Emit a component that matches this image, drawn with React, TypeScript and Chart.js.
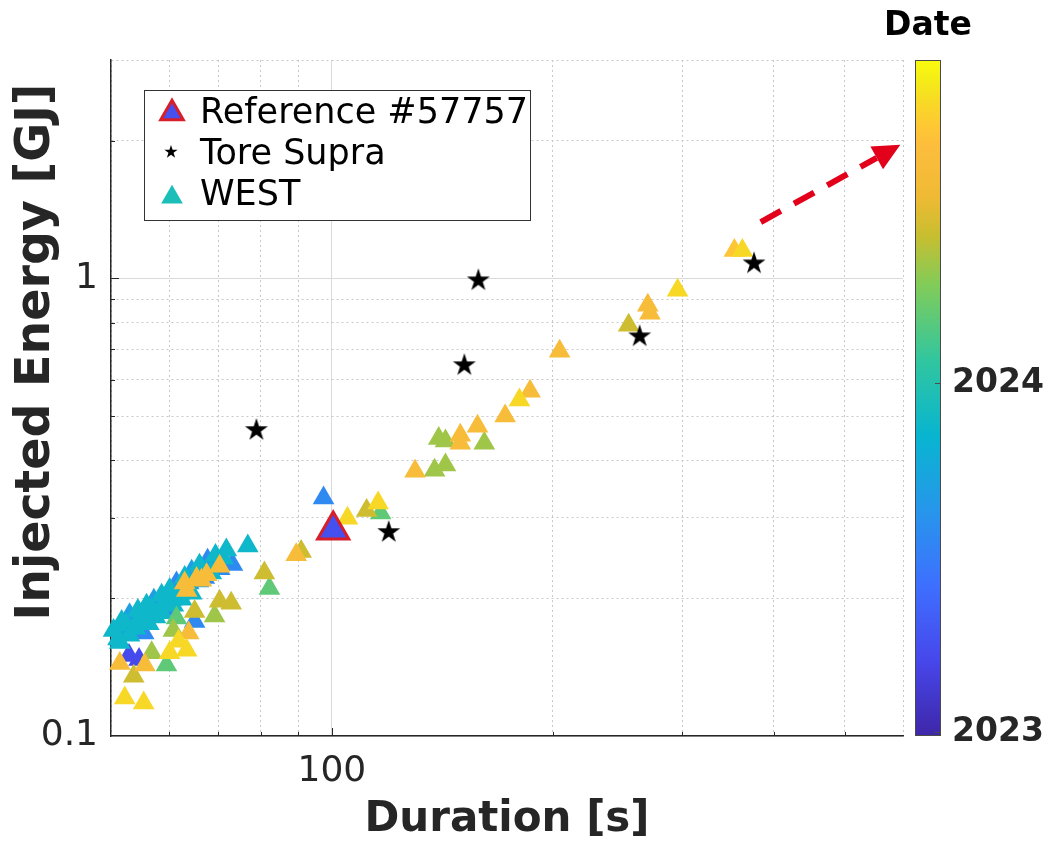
import React, { useEffect, useRef } from "react";
import { Chart, registerables } from "chart.js";

Chart.register(...registerables);

const W = 1053;
const H = 841;
const FONT = '"DejaVu Sans", "Liberation Sans", sans-serif';
const TEXT_COLOR = "#262626";

// ---- axes -----------------------------------------------------------
const X_MIN = 50;
const X_MAX = 600;
const Y_MIN = 0.1;
const Y_MAX = 3;
const X_TICKS = [50, 60, 70, 80, 90, 100, 200, 300, 400, 500, 600];
const X_LABELED = [100];
const Y_TICKS = [0.1, 0.2, 0.3, 0.4, 0.5, 0.6, 0.7, 0.8, 0.9, 1, 2, 3];
const Y_LABELED = [0.1, 1];
const DATE_MIN = 2022.9885;
const DATE_MAX = 2024.926;
const DATE_TICKS = [2023, 2024];

const X_TITLE = "Duration [s]";
const Y_TITLE = "Injected Energy [GJ]";
const C_TITLE = "Date";
const LEGEND_LABELS = ["Reference #57757", "Tore Supra", "WEST"];

// ---- data -----------------------------------------------------------
const REF_DURATION = [100.4];
const REF_ENERGY = [0.282];
const REF_DATE = [2023.25];

const TS_DURATION = [78.9, 119.5, 151.5, 158.3, 262.6, 376.0];
const TS_ENERGY = [0.466, 0.279, 0.646, 0.99, 0.747, 1.078];

const WEST_DURATION = [
  97.4, 105.0, 111.5, 116.5, 115.6, 129.8, 138.0, 142.8, 139.8, 142.8, 149.6, 149.6,
  157.9, 161.3, 172.2, 180.1, 186.2, 204.3, 253.7, 269.4, 271.2, 295.8, 353.5, 362.5,
  89.4, 90.8, 76.8, 80.9, 82.2,
  51.1, 51.7, 52.4, 53.0, 53.4, 54.0, 54.7, 55.4, 55.6, 56.3, 56.8, 57.5, 58.1, 58.6,
  59.2, 59.7, 60.5, 60.8, 61.6, 62.4, 63.0, 63.8, 64.4, 65.2, 65.8, 66.4, 67.0, 67.9,
  68.5, 69.4, 70.3, 71.1, 71.8, 73.2, 65.0, 62.0, 51.4,
  50.4, 51.7, 53.0, 54.4, 55.9, 57.2, 58.6, 60.1, 61.4, 63.0, 64.4, 66.0, 67.7, 69.4,
  63.0, 63.4, 65.4, 67.5, 70.3, 66.4, 65.0, 70.3, 72.9, 69.2, 61.4, 60.8, 63.8, 61.8,
  60.1, 63.4, 59.5, 51.4, 52.9, 54.6, 55.6, 56.8, 53.7, 52.2, 55.4,
];
const WEST_ENERGY = [
  0.331, 0.299, 0.311, 0.307, 0.323, 0.379, 0.381, 0.391, 0.447, 0.441, 0.454, 0.436,
  0.475, 0.436, 0.5, 0.542, 0.567, 0.693, 0.79, 0.873, 0.839, 0.942, 1.151, 1.151,
  0.249, 0.253, 0.26, 0.227, 0.21,
  0.163, 0.17, 0.175, 0.166, 0.178, 0.172, 0.181, 0.168, 0.184, 0.176, 0.189, 0.182, 0.193, 0.186,
  0.197, 0.189, 0.199, 0.193, 0.205, 0.199, 0.21, 0.216, 0.205, 0.225, 0.218, 0.232, 0.222, 0.235,
  0.227, 0.238, 0.232, 0.245, 0.255, 0.237, 0.178, 0.205, 0.16,
  0.17, 0.178, 0.184, 0.188, 0.193, 0.198, 0.203, 0.209, 0.216, 0.222, 0.229, 0.236, 0.242, 0.248,
  0.216, 0.208, 0.221, 0.225, 0.235, 0.219, 0.187, 0.197, 0.195, 0.183, 0.181, 0.17, 0.168, 0.161,
  0.152, 0.154, 0.143, 0.144, 0.15, 0.147, 0.143, 0.152, 0.135, 0.121, 0.118,
];
const WEST_DATE = [
  2023.57, 2024.8, 2024.44, 2024.19, 2024.8, 2024.62, 2024.34, 2024.34, 2024.34, 2024.34, 2024.62, 2024.62,
  2024.62, 2024.34, 2024.62, 2024.8, 2024.62, 2024.62, 2024.44, 2024.62, 2024.62, 2024.8, 2024.72, 2024.8,
  2024.62, 2024.44, 2023.88, 2024.44, 2024.19,
  2023.88, 2023.7, 2023.88, 2023.88, 2023.57, 2023.88, 2023.88, 2023.57, 2023.7, 2023.88, 2023.88, 2023.88, 2023.7, 2023.88,
  2023.88, 2023.57, 2023.88, 2023.88, 2023.7, 2023.88, 2023.88, 2023.7, 2023.88, 2023.57, 2023.7, 2023.88, 2023.57, 2023.7,
  2023.88, 2023.7, 2023.57, 2023.88, 2023.88, 2023.57, 2023.57, 2023.7, 2023.88,
  2023.88, 2023.88, 2023.7, 2023.88, 2023.88, 2023.7, 2023.88, 2023.88, 2023.57, 2023.88, 2023.7, 2023.88, 2023.57, 2023.88,
  2024.62, 2024.62, 2024.62, 2024.62, 2024.62, 2024.62, 2024.44, 2024.44, 2024.44, 2024.34, 2024.19, 2024.34, 2024.62, 2024.8,
  2024.8, 2024.8, 2024.19, 2024.62, 2023.22, 2023.22, 2024.62, 2024.34, 2024.44, 2024.8, 2024.8,
];

// annotation arrow (data coordinates: duration, energy)
const ARROW_FROM = [384, 1.327];
const ARROW_TO = [595, 1.958];

// parula colormap stops [t, r, g, b]
const PARULA: number[][] = [
  [0.0, 62, 38, 168],
  [0.111, 71, 71, 235],
  [0.222, 62, 111, 255],
  [0.333, 39, 150, 235],
  [0.444, 8, 181, 208],
  [0.556, 49, 198, 159],
  [0.667, 129, 204, 89],
  [0.74, 200, 190, 48],
  [0.8, 240, 186, 52],
  [0.873, 253, 189, 61],
  [0.905, 254, 201, 50],
  [0.937, 248, 217, 38],
  [0.968, 245, 235, 24],
  [1.0, 249, 251, 14],
];

function parula(t: number): string {
  const tt = Math.max(0, Math.min(1, t));
  for (let i = 1; i < PARULA.length; i++) {
    if (tt <= PARULA[i][0]) {
      const a = PARULA[i - 1];
      const b = PARULA[i];
      const f = (tt - a[0]) / (b[0] - a[0]);
      const r = Math.round(a[1] + (b[1] - a[1]) * f);
      const g = Math.round(a[2] + (b[2] - a[2]) * f);
      const bl = Math.round(a[3] + (b[3] - a[3]) * f);
      return `rgb(${r},${g},${bl})`;
    }
  }
  const l = PARULA[PARULA.length - 1];
  return `rgb(${l[1]},${l[2]},${l[3]})`;
}
const dateColor = (d: number) => parula((d - DATE_MIN) / (DATE_MAX - DATE_MIN));

function starPath(ctx: CanvasRenderingContext2D, cx: number, cy: number, R: number) {
  const r = R * 0.382;
  ctx.beginPath();
  for (let i = 0; i < 10; i++) {
    const rad = i % 2 === 0 ? R : r;
    const a = -Math.PI / 2 + (i * Math.PI) / 5;
    const px = cx + rad * Math.cos(a);
    const py = cy + rad * Math.sin(a);
    if (i === 0) ctx.moveTo(px, py);
    else ctx.lineTo(px, py);
  }
  ctx.closePath();
}

function makeStar(R: number): HTMLCanvasElement {
  const size = Math.ceil(R * 2 + 2);
  const c = document.createElement("canvas");
  c.width = size;
  c.height = size;
  const g = c.getContext("2d")!;
  g.fillStyle = "#000";
  starPath(g, size / 2, size / 2, R);
  g.fill();
  return c;
}

function triPath(ctx: CanvasRenderingContext2D, cx: number, cy: number, r: number) {
  ctx.beginPath();
  for (let i = 0; i < 3; i++) {
    const a = -Math.PI / 2 + (i * 2 * Math.PI) / 3;
    const px = cx + r * Math.cos(a);
    const py = cy + r * Math.sin(a);
    if (i === 0) ctx.moveTo(px, py);
    else ctx.lineTo(px, py);
  }
  ctx.closePath();
}

const isIn = (arr: number[], v: number) => arr.some((a) => Math.abs(a - v) < 1e-9);

const zeroPad = (s: any) => {
  s.paddingTop = 0;
  s.paddingBottom = 0;
  s.paddingLeft = 0;
  s.paddingRight = 0;
};

export default function App() {
  const ref = useRef<HTMLCanvasElement | null>(null);

  useEffect(() => {
    const canvas = ref.current;
    if (!canvas) return;

    const order = WEST_DATE.map((_, i) => i).sort((a, b) => WEST_DATE[a] - WEST_DATE[b]);
    const westPoints = order.map((i) => ({ x: WEST_DURATION[i], y: WEST_ENERGY[i] }));
    const westColors = order.map((i) => dateColor(WEST_DATE[i]));
    const starImg = makeStar(12);

    const gridColor = (ctx: any) => {
      const v = ctx.tick ? ctx.tick.value : NaN;
      return ctx.scale && ctx.scale.id === "x"
        ? isIn(X_LABELED, v) ? "#dadada" : "#c8c8c8"
        : isIn(Y_LABELED, v) ? "#dadada" : "#c8c8c8";
    };
    const gridDash = (ctx: any) => {
      if (!ctx.tick) return [];
      const v = ctx.tick.value;
      const major = ctx.scale && ctx.scale.id === "x" ? isIn(X_LABELED, v) : isIn(Y_LABELED, v);
      return major ? [] : [2, 3];
    };

    const decorPlugin = {
      id: "decor",
      afterDatasetsDraw(chart: any) {
        const { ctx } = chart;
        const xs = chart.scales.x;
        const ys = chart.scales.y;
        // arrow
        const x0 = xs.getPixelForValue(ARROW_FROM[0]);
        const y0 = ys.getPixelForValue(ARROW_FROM[1]);
        const x1 = xs.getPixelForValue(ARROW_TO[0]);
        const y1 = ys.getPixelForValue(ARROW_TO[1]);
        const ang = Math.atan2(y1 - y0, x1 - x0);
        const headLen = 27;
        const headW = 13;
        const bx = x1 - headLen * Math.cos(ang);
        const by = y1 - headLen * Math.sin(ang);
        ctx.save();
        ctx.strokeStyle = "#e3001b";
        ctx.fillStyle = "#e3001b";
        ctx.lineWidth = 6;
        ctx.setLineDash([23, 15]);
        ctx.beginPath();
        ctx.moveTo(x0, y0);
        ctx.lineTo(bx, by);
        ctx.stroke();
        ctx.setLineDash([]);
        ctx.beginPath();
        ctx.moveTo(x1, y1);
        ctx.lineTo(bx + headW * Math.sin(ang), by - headW * Math.cos(ang));
        ctx.lineTo(bx - headW * Math.sin(ang), by + headW * Math.cos(ang));
        ctx.closePath();
        ctx.fill();
        ctx.restore();
      },
      afterDraw(chart: any) {
        const { ctx, chartArea } = chart;
        const xs = chart.scales.x;
        const ys = chart.scales.y;
        const cs = chart.scales.c;
        ctx.save();
        // inward ticks
        ctx.strokeStyle = TEXT_COLOR;
        ctx.lineWidth = 1;
        X_TICKS.forEach((v) => {
          const px = Math.round(xs.getPixelForValue(v)) + 0.5;
          if (px <= chartArea.left + 1 || px >= chartArea.right - 1) return;
          const len = isIn(X_LABELED, v) ? 8 : 4;
          ctx.beginPath();
          ctx.moveTo(px, chartArea.bottom);
          ctx.lineTo(px, chartArea.bottom - len);
          ctx.stroke();
        });
        Y_TICKS.forEach((v) => {
          const py = Math.round(ys.getPixelForValue(v)) + 0.5;
          if (py <= chartArea.top + 1 || py >= chartArea.bottom - 1) return;
          const len = isIn(Y_LABELED, v) ? 8 : 4;
          ctx.beginPath();
          ctx.moveTo(chartArea.left, py);
          ctx.lineTo(chartArea.left + len, py);
          ctx.stroke();
        });

        // colorbar
        const cTop = cs.getPixelForValue(DATE_MAX);
        const cBot = cs.getPixelForValue(DATE_MIN);
        const cL = 915;
        const cW = 26;
        const grad = ctx.createLinearGradient(0, cBot, 0, cTop);
        PARULA.forEach((s) => grad.addColorStop(s[0], `rgb(${s[1]},${s[2]},${s[3]})`));
        ctx.fillStyle = grad;
        ctx.fillRect(cL, cTop, cW, cBot - cTop);
        ctx.strokeStyle = "#4a4a4a";
        ctx.strokeRect(cL + 0.5, cTop + 0.5, cW - 1, cBot - cTop - 1);
        DATE_TICKS.forEach((v) => {
          const py = Math.round(cs.getPixelForValue(v)) + 0.5;
          ctx.beginPath();
          ctx.moveTo(cL + cW, py);
          ctx.lineTo(cL + cW - 6, py);
          ctx.stroke();
        });
        ctx.fillStyle = "#000";
        ctx.font = `bold 33px ${FONT}`;
        ctx.textAlign = "center";
        ctx.textBaseline = "middle";
        ctx.fillText(C_TITLE, cL + cW / 2, 26);

        // y title
        ctx.save();
        ctx.translate(37, 352);
        ctx.rotate(-Math.PI / 2);
        ctx.fillStyle = TEXT_COLOR;
        ctx.font = `bold 47.5px ${FONT}`;
        ctx.textAlign = "center";
        ctx.textBaseline = "middle";
        ctx.fillText(Y_TITLE, 0, 0);
        ctx.restore();

        // legend
        const bx0 = 144.5;
        const by0 = 90.5;
        const bw = 386;
        const bh = 130;
        ctx.fillStyle = "#fff";
        ctx.fillRect(bx0, by0, bw, bh);
        ctx.strokeStyle = "#333";
        ctx.lineWidth = 1;
        ctx.strokeRect(bx0, by0, bw, bh);
        const rows = [113, 154, 195];
        const mx = 172;
        // reference marker
        triPath(ctx, mx, 110 + 13 / 4, 13);
        ctx.fillStyle = dateColor(REF_DATE[0]);
        ctx.fill();
        ctx.strokeStyle = "#d81e28";
        ctx.lineWidth = 3;
        ctx.stroke();
        // star
        starPath(ctx, mx - 1, 152, 7);
        ctx.fillStyle = "#000";
        ctx.fill();
        // west
        triPath(ctx, mx, 194 + 12.5 / 4, 12.5);
        ctx.fillStyle = parula(0.5);
        ctx.fill();
        ctx.fillStyle = "#000";
        ctx.font = `35px ${FONT}`;
        ctx.textAlign = "left";
        ctx.textBaseline = "middle";
        LEGEND_LABELS.forEach((t, i) => ctx.fillText(t, 200, rows[i] + 1));
        ctx.restore();
      },
    };

    const chart = new Chart(canvas, {
      type: "scatter",
      data: {
        datasets: [
          {
            label: LEGEND_LABELS[0],
            data: REF_DURATION.map((x, i) => ({ x, y: REF_ENERGY[i] })),
            pointStyle: "triangle",
            pointRadius: 18,
            pointHoverRadius: 18,
            backgroundColor: REF_DATE.map(dateColor),
            borderColor: "#d81e28",
            borderWidth: 3,
            order: 0,
            clip: false,
          } as any,
          {
            label: LEGEND_LABELS[1],
            data: TS_DURATION.map((x, i) => ({ x, y: TS_ENERGY[i] })),
            pointStyle: starImg,
            pointRadius: 12,
            backgroundColor: "#000",
            borderWidth: 0,
            order: 1,
            clip: false,
          } as any,
          {
            label: LEGEND_LABELS[2],
            data: westPoints,
            pointStyle: "triangle",
            pointRadius: 12.5,
            pointHoverRadius: 12.5,
            backgroundColor: westColors,
            borderWidth: 0,
            order: 2,
            clip: false,
          } as any,
        ],
      },
      options: {
        responsive: false,
        animation: false,
        devicePixelRatio: 1,
        events: [],
        layout: { padding: { top: 60, left: 0, right: 0, bottom: 0 } },
        plugins: { legend: { display: false }, tooltip: { enabled: false } },
        scales: {
          x: {
            type: "logarithmic",
            position: "bottom",
            min: X_MIN,
            max: X_MAX,
            afterBuildTicks: (s: any) => {
              s.ticks = X_TICKS.map((v) => ({ value: v }));
            },
            afterFit: (s: any) => {
              s.height = H - 736;
              zeroPad(s);
            },
            ticks: {
              autoSkip: false,
              maxRotation: 0,
              padding: 14,
              color: TEXT_COLOR,
              font: { family: FONT, size: 36 },
              callback: (v: any) => (isIn(X_LABELED, Number(v)) ? String(v) : ""),
            },
            grid: { drawTicks: false, color: gridColor, lineWidth: 1 },
            border: { display: true, color: TEXT_COLOR, width: 1.5, dash: gridDash },
            title: {
              display: true,
              text: X_TITLE,
              color: TEXT_COLOR,
              font: { family: FONT, size: 42, weight: "bold", lineHeight: 1 },
              padding: { top: 0, bottom: 0 },
            },
          },
          y: {
            type: "logarithmic",
            position: "left",
            min: Y_MIN,
            max: Y_MAX,
            afterBuildTicks: (s: any) => {
              s.ticks = Y_TICKS.map((v) => ({ value: v }));
            },
            afterFit: (s: any) => {
              s.width = 111;
              zeroPad(s);
            },
            ticks: {
              autoSkip: false,
              padding: 13,
              color: TEXT_COLOR,
              font: { family: FONT, size: 36 },
              callback: (v: any) => (isIn(Y_LABELED, Number(v)) ? String(v) : ""),
            },
            grid: { drawTicks: false, color: gridColor, lineWidth: 1 },
            border: { display: true, color: TEXT_COLOR, width: 1.5, dash: gridDash },
          },
          c: {
            type: "linear",
            position: "right",
            min: DATE_MIN,
            max: DATE_MAX,
            afterBuildTicks: (s: any) => {
              s.ticks = DATE_TICKS.map((v) => ({ value: v }));
            },
            afterFit: (s: any) => {
              s.width = W - 903;
              zeroPad(s);
            },
            ticks: {
              padding: 49,
              color: TEXT_COLOR,
              font: { family: FONT, size: 33, weight: "bold" },
              callback: (v: any) => String(v),
            },
            grid: { display: false, drawTicks: false },
            border: { display: false },
          },
        },
      } as any,
      plugins: [decorPlugin],
    });

    return () => chart.destroy();
  }, []);

  return (
    <div style={{ position: "absolute", left: 0, top: 0, width: W, height: H, background: "#fff" }}>
      <canvas ref={ref} width={W} height={H} style={{ display: "block" }} />
    </div>
  );
}
